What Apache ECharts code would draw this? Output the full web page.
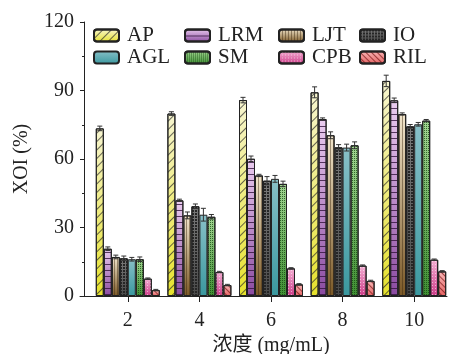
<!DOCTYPE html>
<html>
<head>
<meta charset="utf-8">
<script src="https://cdn.jsdelivr.net/npm/echarts@6/dist/echarts.min.js"></script>
<style>
  html, body { margin: 0; padding: 0; background: #fff; }
  #chart { width: 457px; height: 354px; }
</style>
</head>
<body>
<div id="chart"></div>
<script>
// 数据
const categories = ['2', '4', '6', '8', '10'];
const seriesNames = ['AP', 'LRM', 'LJT', 'IO', 'AGL', 'SM', 'CPB', 'RIL'];
const valAP  = [73.4, 79.9, 85.8, 89.2, 94.2];
const valLRM = [20.7, 41.9, 60.1, 77.5, 85.7];
const valLJT = [17.1, 35.3, 52.8, 70.4, 79.7];
const valIO  = [16.5, 39.3, 50.5, 65.1, 74.3];
const valAGL = [16.1, 35.6, 51.3, 65.0, 75.2];
const valSM  = [16.1, 34.7, 49.1, 66.0, 76.8];
const valCPB = [7.6, 10.5, 12.1, 13.3, 15.9];
const valRIL = [2.6, 4.8, 5.1, 6.6, 10.8];
const errAP  = [1.0, 0.8, 1.2, 2.4, 2.5];
const errLRM = [0.8, 0.5, 1.2, 0.5, 1.0];
const errLJT = [0.8, 1.5, 0.5, 1.5, 0.5];
const errIO  = [1.0, 1.0, 1.8, 1.2, 0.8];
const errAGL = [0.8, 2.8, 1.5, 1.5, 0.8];
const errSM  = [1.0, 1.0, 1.2, 1.5, 0.5];
const errCPB = [0.3, 0.3, 0.3, 0.3, 0.3];
const errRIL = [0.3, 0.3, 0.3, 0.3, 0.3];
const yTicks = [0, 30, 60, 90, 120];

const values = [valAP, valLRM, valLJT, valIO, valAGL, valSM, valCPB, valRIL];
const errors = [errAP, errLRM, errLJT, errIO, errAGL, errSM, errCPB, errRIL];

const FONT = '"Liberation Serif", "Times New Roman", "Noto Sans CJK SC", serif';
const BAR_W = 8;

// 各系列的渐变色和图案
const grad = (top, bottom) => new echarts.graphic.LinearGradient(0, 0, 0, 1, [
  { offset: 0, color: top },
  { offset: 1, color: bottom }
]);

const styles = [
  { color: grad('#f7f5d0', '#e6e22c'), decal: { symbol: 'rect', symbolSize: 1, color: 'rgba(40,40,40,0.7)', dashArrayX: [1, 0], dashArrayY: [1, 5], rotation: -Math.PI / 4 } },
  { color: grad('#ebcdf0', '#8a4aa0'), decal: { symbol: 'rect', symbolSize: 1, color: 'rgba(50,20,60,0.8)', dashArrayX: [1, 0], dashArrayY: [1, 4.5], rotation: 0 } },
  { color: grad('#f2e6cc', '#7a5826'), decal: { symbol: 'rect', symbolSize: 1, color: 'rgba(60,40,15,0.45)', dashArrayX: [1, 2], dashArrayY: [1, 0], rotation: 0 } },
  { color: grad('#7a7a7a', '#4a4a4a'), decal: { symbol: 'rect', symbolSize: 1, color: '#262626', dashArrayX: [2, 1], dashArrayY: [2, 1], rotation: 0 } },
  { color: grad('#88c0c8', '#3a989f'), decal: null },
  { color: grad('#a2d692', '#3f8f33'), decal: { symbol: 'rect', symbolSize: 1, color: 'rgba(20,70,15,0.75)', dashArrayX: [1, 1], dashArrayY: [1, 1], rotation: 0 } },
  { color: grad('#f4b0d4', '#cc3c88'), decal: { symbol: 'rect', symbolSize: 1, color: 'rgba(255,255,255,0.5)', dashArrayX: [1, 2], dashArrayY: [1, 2], rotation: 0 } },
  { color: grad('#f8b8b8', '#e46262'), decal: { symbol: 'rect', symbolSize: 1, color: 'rgba(120,20,20,0.7)', dashArrayX: [1, 0], dashArrayY: [1, 2.5], rotation: Math.PI / 4 } }
];

const barSeries = seriesNames.map((name, i) => ({
  name: name,
  type: 'bar',
  xAxisIndex: 1,
  yAxisIndex: 1,
  data: values[i],
  barWidth: BAR_W,
  barGap: '0%',
  itemStyle: {
    color: styles[i].color,
    decal: styles[i].decal || undefined,
    borderColor: '#222',
    borderWidth: 1
  },
  emphasis: { disabled: true }
}));

// 误差线
const errData = [];
values.forEach((vals, s) => {
  vals.forEach((v, c) => {
    errData.push([c, v, errors[s][c], s]);
  });
});

const errSeries = {
  type: 'custom',
  xAxisIndex: 1,
  yAxisIndex: 1,
  silent: true,
  z: 5,
  data: errData,
  renderItem: function (params, api) {
    const c = api.value(0);
    const v = api.value(1);
    const e = api.value(2);
    const s = api.value(3);
    const off = (s - 3.5) * BAR_W;
    const hi = api.coord([c, v + e]);
    const lo = api.coord([c, v - e]);
    const x = hi[0] + off;
    const cap = 2.5;
    const st = { stroke: '#333', lineWidth: 1 };
    return {
      type: 'group',
      children: [
        { type: 'line', shape: { x1: x, y1: hi[1], x2: x, y2: lo[1] }, style: st },
        { type: 'line', shape: { x1: x - cap, y1: hi[1], x2: x + cap, y2: hi[1] }, style: st },
        { type: 'line', shape: { x1: x - cap, y1: lo[1], x2: x + cap, y2: lo[1] }, style: st }
      ]
    };
  }
};

const legendCols = [['AP', 'AGL'], ['LRM', 'SM'], ['LJT', 'CPB'], ['IO', 'RIL']];
const legendLeft = [93, 184, 278, 359];
const legends = legendCols.map((cols, i) => ({
  left: legendLeft[i],
  top: 25,
  orient: 'vertical',
  data: cols,
  itemWidth: 25,
  itemHeight: 12,
  itemGap: 1,
  selectedMode: false,
  padding: 0,
  textStyle: {
    fontFamily: FONT,
    fontSize: 21,
    color: '#222',
    padding: [0, 0, 0, 3]
  }
}));

const myChart = echarts.init(document.getElementById('chart'));

const option = {
  backgroundColor: '#fff',
  animation: false,
  legend: legends,
  grid: [
    { left: 80, right: 10, top: 22, bottom: 58, outerBoundsMode: 'none' },
    { left: 92, right: 7, top: 22, bottom: 58, outerBoundsMode: 'none' }
  ],
  xAxis: [
    {
      type: 'value',
      gridIndex: 0,
      min: 0,
      max: 1,
      axisLine: { show: true, lineStyle: { color: '#222', width: 1 } },
      axisTick: { show: false },
      axisLabel: { show: false },
      splitLine: { show: false }
    },
    {
      type: 'category',
      gridIndex: 1,
      data: categories,
      name: '浓度 (mg/mL)',
      nameLocation: 'middle',
      nameGap: 33,
      nameTextStyle: { fontFamily: FONT, fontSize: 20, color: '#222' },
      axisLine: { show: false },
      axisTick: { show: true, alignWithLabel: true, length: 6, lineStyle: { color: '#222' } },
      axisLabel: { fontFamily: FONT, fontSize: 20, color: '#222', margin: 15 },
      splitLine: { show: false }
    }
  ],
  yAxis: [
    {
      type: 'value',
      gridIndex: 0,
      offset: -4,
      min: yTicks[0],
      max: yTicks[yTicks.length - 1],
      interval: 30,
      name: 'XOI (%)',
      nameLocation: 'middle',
      nameGap: 52,
      nameTextStyle: { fontFamily: FONT, fontSize: 20, color: '#222' },
      axisLine: { show: true, lineStyle: { color: '#222', width: 1 } },
      axisTick: { show: true, length: 4, lineStyle: { color: '#222' } },
      minorTick: { show: true, splitNumber: 2, length: 2, lineStyle: { color: '#222' } },
      axisLabel: { fontFamily: FONT, fontSize: 20, color: '#222', margin: 10 },
      splitLine: { show: false }
    },
    {
      type: 'value',
      gridIndex: 1,
      min: 0,
      max: 120,
      show: false
    }
  ],
  series: [...barSeries, errSeries]
};

myChart.setOption(option);
</script>
</body>
</html>
